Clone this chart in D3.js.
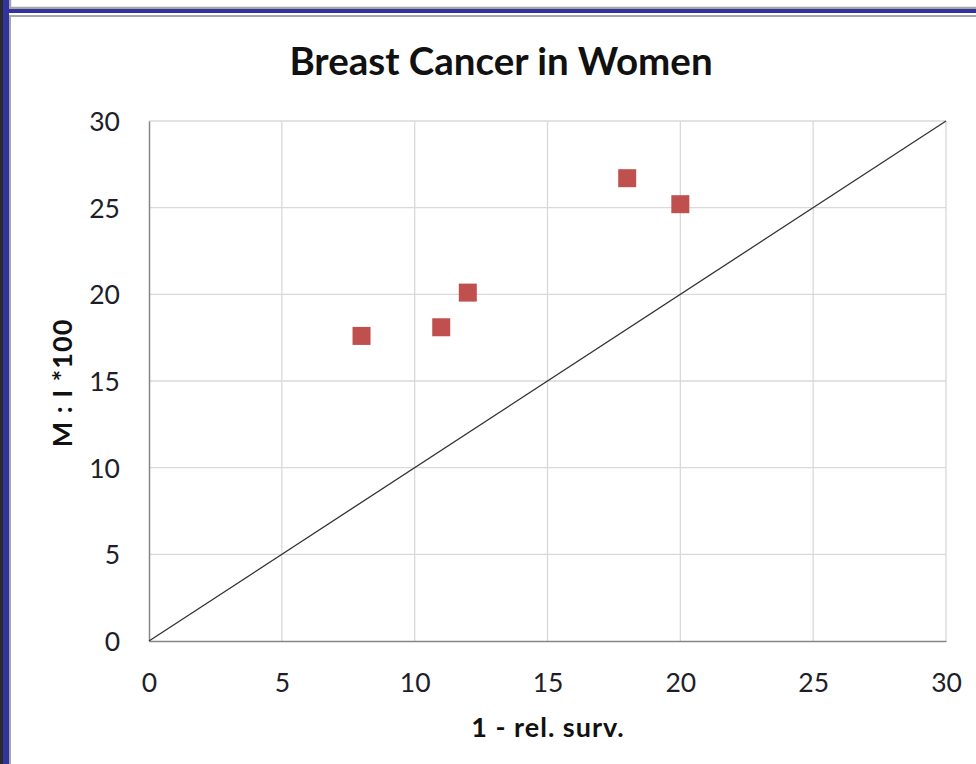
<!DOCTYPE html>
<html><head><meta charset="utf-8">
<script src="https://cdn.jsdelivr.net/npm/d3@7"></script>
<style>body{margin:0;background:#fff}svg{display:block}</style>
</head><body>
<svg id="c" width="976" height="764"></svg>
<script>
const xValues = [8, 11, 12, 18, 20];
const yValues = [17.6, 18.1, 20.1, 26.7, 25.2];
const xTicks = [0, 5, 10, 15, 20, 25, 30];
const yTicks = [0, 5, 10, 15, 20, 25, 30];
const refLine = [[0, 0], [30, 30]];
const title = "Breast Cancer in Women";
const xTitle = "1 - rel. surv.";
const yTitle = "M : I *100";

const svg = d3.select("#c");
const font = "Lato, 'Open Sans', sans-serif";
// frame decoration
svg.append("rect").attr("x",0).attr("y",0).attr("width",976).attr("height",764).attr("fill","#fff");
svg.append("rect").attr("x",10).attr("y",-2).attr("width",980).attr("height",10).attr("fill","#fff").attr("stroke","#a6a6a6").attr("stroke-width",2.5);
svg.append("rect").attr("x",0).attr("y",0).attr("width",3).attr("height",764).attr("fill","#2b2b2b");
svg.append("rect").attr("x",3).attr("y",0).attr("width",6).attr("height",764).attr("fill","#3333a0");
svg.append("rect").attr("x",3).attr("y",9).attr("width",973).attr("height",4).attr("fill","#3333a0");
svg.append("rect").attr("x",10).attr("y",16).attr("width",980).attr("height",760).attr("fill","#fff").attr("stroke","#a6a6a6").attr("stroke-width",2);

const x = d3.scaleLinear().domain([0,30]).range([149,946]);
const y = d3.scaleLinear().domain([0,30]).range([641,121]);

// gridlines
svg.append("g").selectAll("line.v").data(xTicks.slice(1)).join("line")
  .attr("x1",d=>x(d)).attr("x2",d=>x(d)).attr("y1",y(30)).attr("y2",y(0))
  .attr("stroke","#d9d9d9").attr("stroke-width",1.3);
svg.append("g").selectAll("line.h").data(yTicks.slice(1)).join("line")
  .attr("x1",x(0)).attr("x2",x(30)).attr("y1",d=>y(d)).attr("y2",d=>y(d))
  .attr("stroke","#d9d9d9").attr("stroke-width",1.3);

// axes
const xAxis = svg.append("g").attr("transform",`translate(0,${y(0)})`)
  .call(d3.axisBottom(x).tickValues(xTicks).tickSize(0).tickPadding(32));
const yAxis = svg.append("g").attr("transform",`translate(${x(0)},0)`)
  .call(d3.axisLeft(y).tickValues(yTicks).tickSize(0).tickPadding(29));
[xAxis,yAxis].forEach(a=>{
  a.select(".domain").attr("stroke","#868686").attr("stroke-width",1.5);
  a.selectAll("text").attr("font-family",font).attr("font-size",26.5).attr("fill","#1e1e2a");
});
yAxis.selectAll("text").attr("dy","0.36em");
xAxis.selectAll("text").attr("dy","0.72em");

// reference line
svg.append("path").datum(refLine)
  .attr("d", d3.line().x(d=>x(d[0])).y(d=>y(d[1])))
  .attr("stroke","#333").attr("stroke-width",1.3).attr("fill","none");

// points
const s = 18;
svg.append("g").selectAll("rect").data(xValues.map((v,i)=>[v,yValues[i]])).join("rect")
  .attr("x",d=>x(d[0])-s/2).attr("y",d=>y(d[1])-s/2).attr("width",s).attr("height",s)
  .attr("fill","#c0504d");

// titles
svg.append("text").attr("x",501).attr("y",75).attr("text-anchor","middle")
  .attr("font-family",font).attr("font-weight","bold").attr("font-size",38.5).attr("fill","#111").text(title);
svg.append("text").attr("x",548).attr("y",737).attr("text-anchor","middle")
  .attr("font-family",font).attr("font-weight","bold").attr("font-size",27).attr("letter-spacing",1).attr("fill","#111").text(xTitle);
svg.append("text").attr("transform","translate(72,383) rotate(-90)").attr("text-anchor","middle")
  .attr("font-family",font).attr("font-weight","bold").attr("font-size",27).attr("letter-spacing",1).attr("fill","#111").text(yTitle);
</script>
</body></html>
